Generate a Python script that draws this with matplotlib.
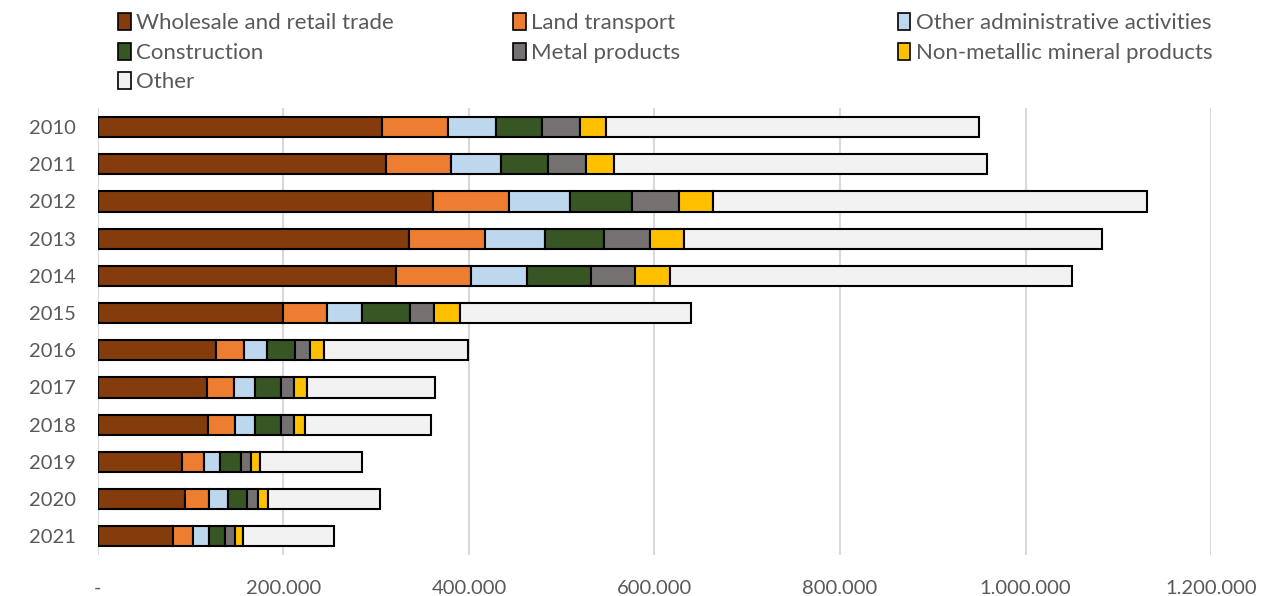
import matplotlib.pyplot as plt
from matplotlib.patches import Patch
from matplotlib.ticker import FuncFormatter
import numpy as np

plt.rcParams['font.family'] = ['Lato', 'DejaVu Sans']

years = ['2010', '2011', '2012', '2013', '2014', '2015',
         '2016', '2017', '2018', '2019', '2020', '2021']

wholesale = [306300, 310200, 361800, 335100, 321700, 199800,
             127700, 118000, 119000, 90400, 93900, 81300]
land_transport = [70900, 70000, 81500, 82500, 80500, 47400,
                  30100, 28700, 29100, 24000, 25900, 21600]
other_admin = [51800, 54600, 65800, 64600, 60300, 37100,
               24200, 22300, 21600, 17600, 20800, 16900]
construction = [49300, 50400, 67100, 63500, 68800, 52000,
                30400, 28700, 27700, 22300, 19800, 17600]
metal = [41200, 41200, 49900, 49200, 47800, 26200,
         16200, 14000, 13600, 10400, 11900, 10400]
non_metallic = [28400, 30000, 37400, 36600, 37700, 27700,
                15400, 13700, 12500, 10400, 10700, 8900]
other = [402200, 401900, 467900, 450600, 433500, 249600,
         155100, 138600, 135800, 109200, 120700, 98100]

series = [
    ('Wholesale and retail trade', wholesale, '#843C0C'),
    ('Land transport', land_transport, '#ED7D31'),
    ('Other administrative activities', other_admin, '#BDD7EE'),
    ('Construction', construction, '#375623'),
    ('Metal products', metal, '#767171'),
    ('Non-metallic mineral products', non_metallic, '#FFC000'),
    ('Other', other, '#F2F2F2'),
]

text_color = '#595959'

fig = plt.figure(figsize=(12.87, 5.96), dpi=100)
ax = fig.add_axes([0.076, 0.069, 0.865, 0.749])

y = np.arange(len(years))
left = np.zeros(len(years))
handles = {}
for name, vals, color in series:
    ax.barh(y, vals, left=left, height=0.54, color=color,
            edgecolor='black', linewidth=1.5, zorder=3)
    left += np.array(vals)
    handles[name] = Patch(facecolor=color, edgecolor='black', linewidth=1.2)

ax.set_yticks(y)
ax.set_yticklabels(years)
ax.set_ylim(len(years) - 0.5, -0.5)
ax.set_xlim(0, 1200000)
ax.set_xticks(np.arange(0, 1200001, 200000))


def fmt(v, pos):
    if v == 0:
        return '-'
    return f'{int(v):,}'.replace(',', '.')


ax.xaxis.set_major_formatter(FuncFormatter(fmt))
ax.grid(axis='x', color='#D9D9D9', linewidth=1.5, zorder=0)
for s in ax.spines.values():
    s.set_visible(False)
ax.tick_params(axis='both', length=0, labelsize=14.5, labelcolor=text_color)
ax.tick_params(axis='x', pad=18)
ax.tick_params(axis='y', pad=16)

# legend laid out as three columns at fixed positions
cols = [
    (0.085, ['Wholesale and retail trade', 'Construction', 'Other']),
    (0.392, ['Land transport', 'Metal products']),
    (0.691, ['Other administrative activities', 'Non-metallic mineral products']),
]
for x0, names in cols:
    fig.legend([handles[n] for n in names], names, loc='upper left',
               bbox_to_anchor=(x0, 0.993), frameon=False, fontsize=16,
               labelcolor=text_color, handlelength=0.55, handleheight=0.8,
               handletextpad=0.25, labelspacing=0.42, borderaxespad=0)

fig.savefig('out.png', dpi=100)
